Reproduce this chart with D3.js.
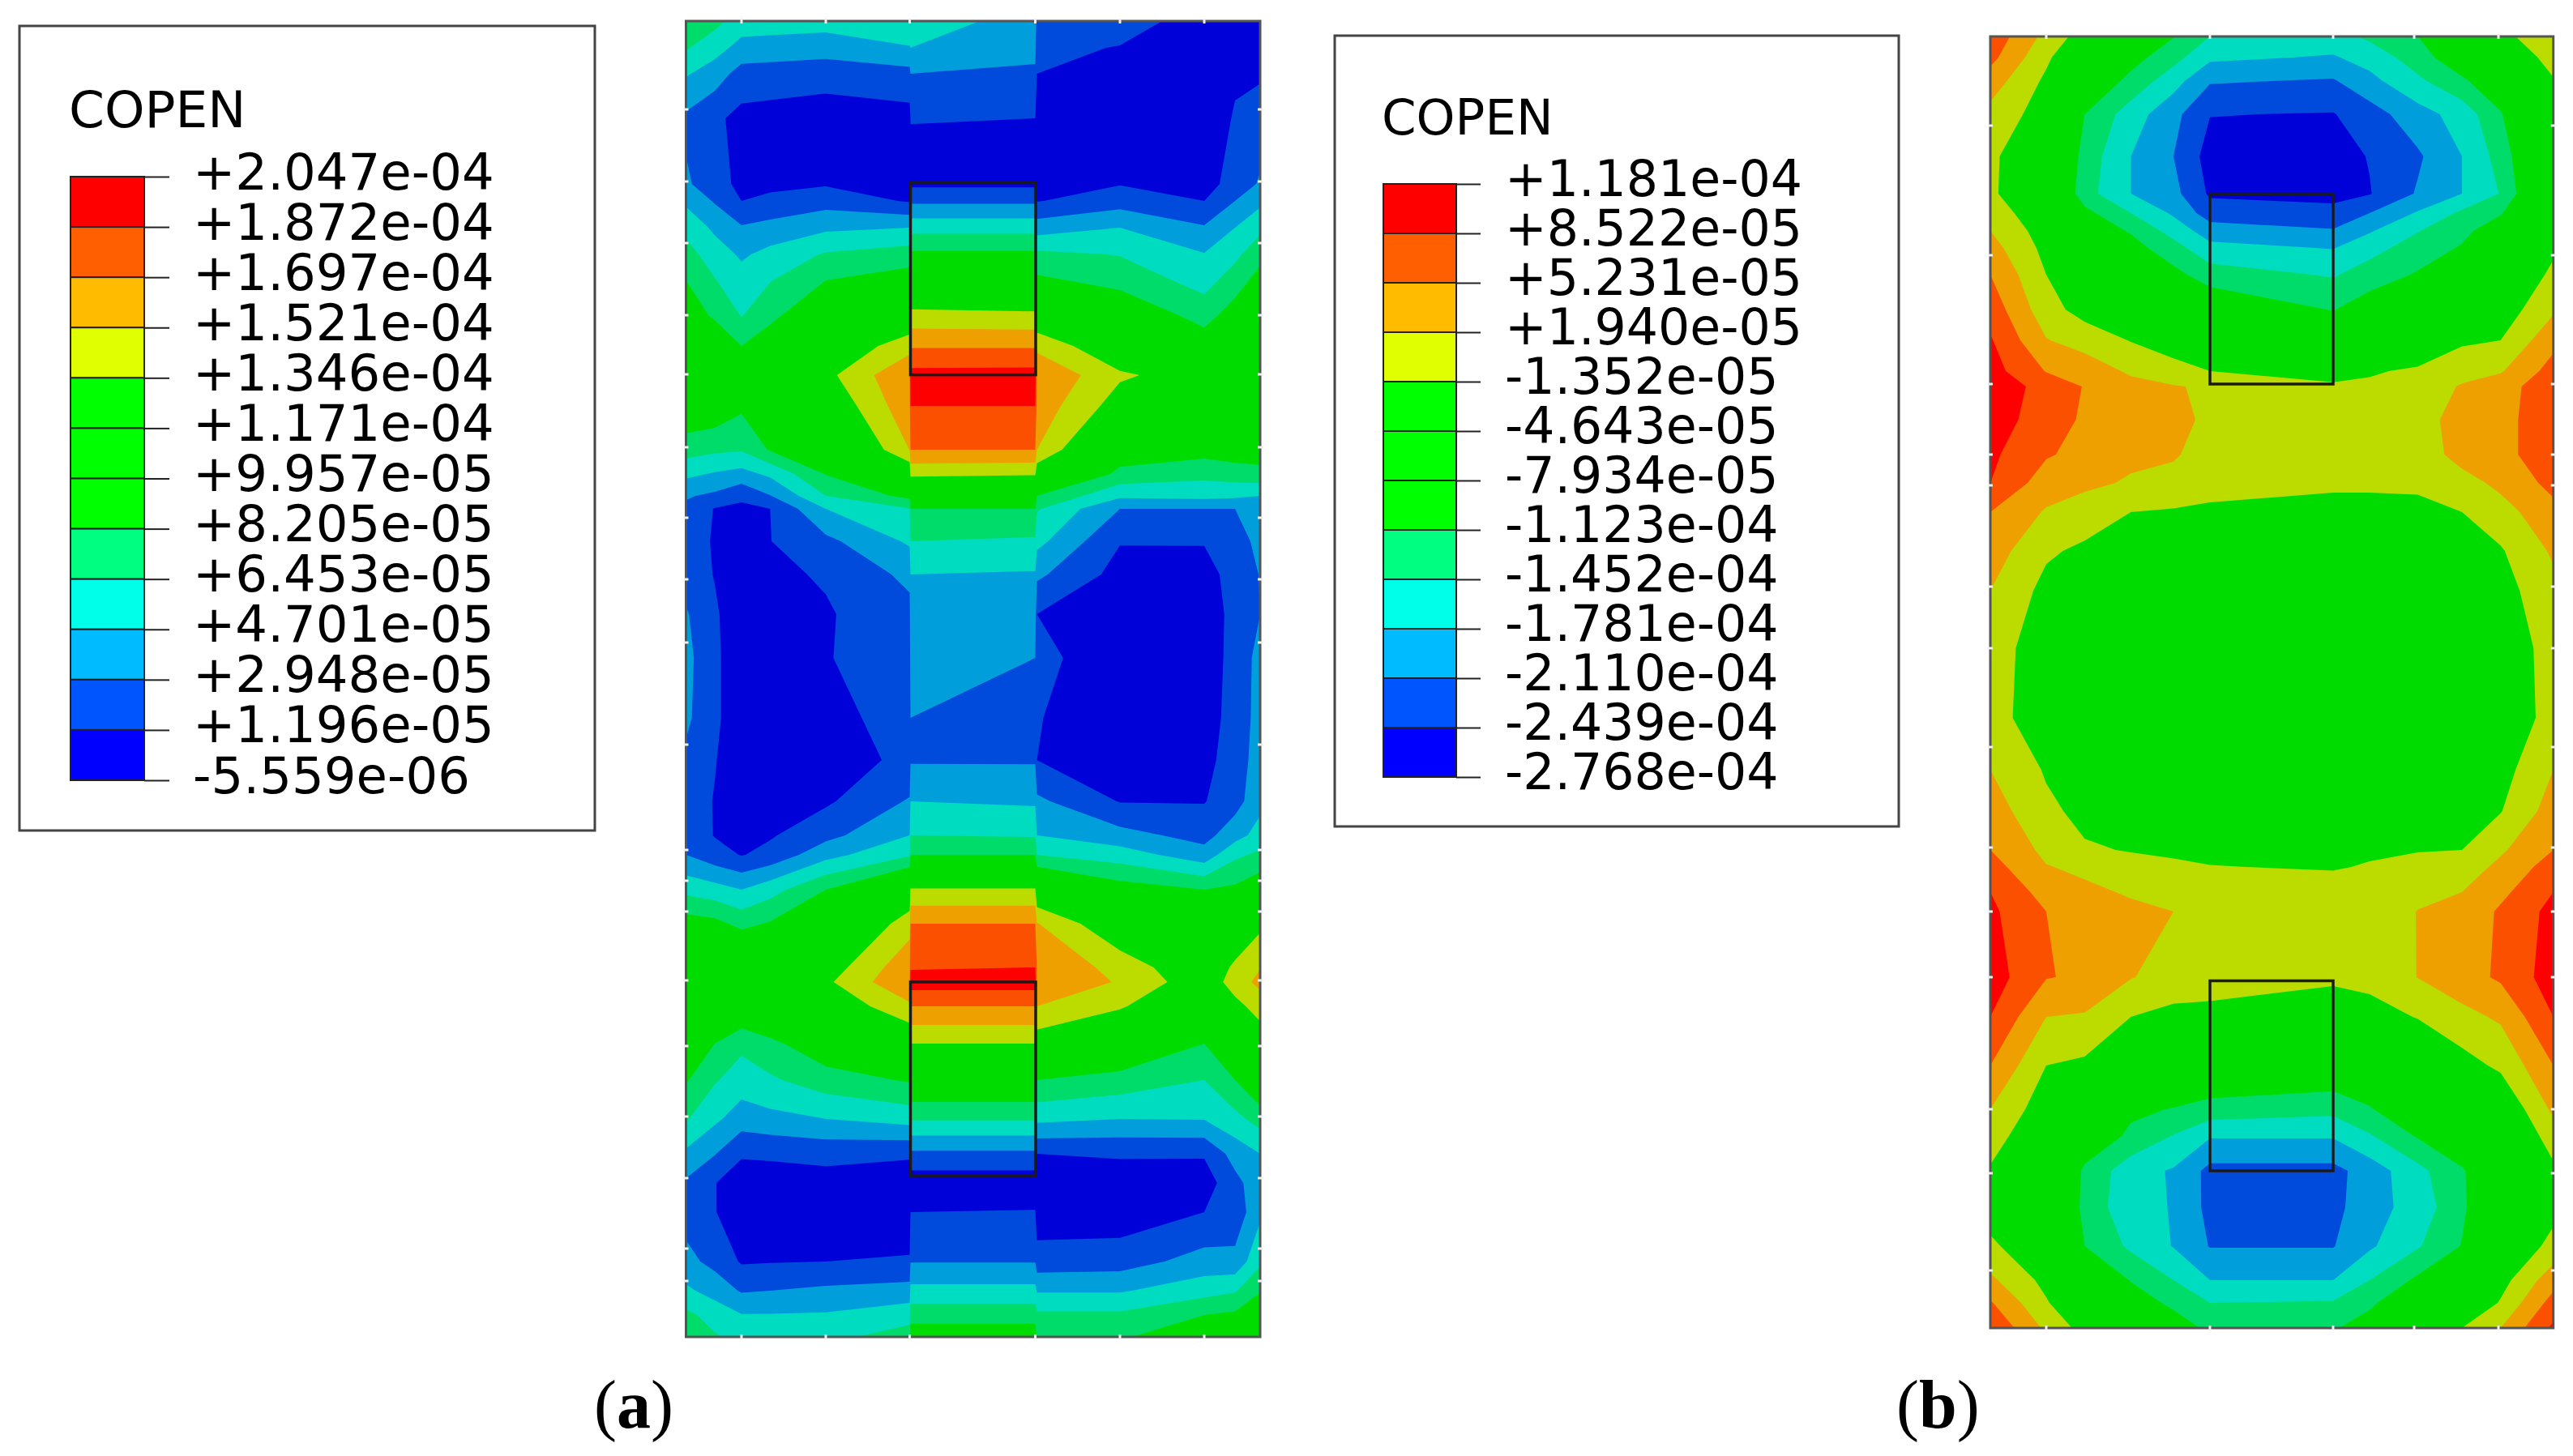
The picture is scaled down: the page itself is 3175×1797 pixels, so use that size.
<!DOCTYPE html>
<html>
<head>
<meta charset="utf-8">
<script src="https://cdn.jsdelivr.net/npm/d3@7"></script>
<style>
  html, body { margin: 0; background: #fff; }
  text { fill: #000; }
  .legend text { font-family: "DejaVu Sans", sans-serif; }
  .caption { font-family: "Liberation Serif", serif; font-size: 84px; }
</style>
</head>
<body>
<div id="chart"></div>
<script>
/* global d3 */

const width = 3175,
  height = 1797

// legend labels, top to bottom
const labelsA = ['+2.047e-04', '+1.872e-04', '+1.697e-04', '+1.521e-04', '+1.346e-04', '+1.171e-04', '+9.957e-05',
  '+8.205e-05', '+6.453e-05', '+4.701e-05', '+2.948e-05', '+1.196e-05', '-5.559e-06']
const labelsB = ['+1.181e-04', '+8.522e-05', '+5.231e-05', '+1.940e-05', '-1.352e-05', '-4.643e-05', '-7.934e-05',
  '-1.123e-04', '-1.452e-04', '-1.781e-04', '-2.110e-04', '-2.439e-04', '-2.768e-04']

// band colours, lowest band first
const legendColors = ['#0000ff', '#0055ff', '#00bbff', '#00ffe8', '#00ff80', '#00ff00', '#00ff00', '#00ff00', '#e0ff00', '#ffbb00', '#ff5f00', '#ff0000']
const plotColors = ['#0000d8', '#004bdc', '#009fdc', '#00dcc0', '#00dc6a', '#00dc00', '#00dc00', '#00dc00', '#bcdc00', '#eda000', '#fa5000', '#ff0000']

// mesh of plate (a), in plate units. Values are read off the picture as a position on
// the legend: 0 is the bottom label, 12 the top one. One array per mesh column.
const nodeXA = [0, 35.5, 68.5, 103.8, 172.5, 276, 277, 431, 433, 535.5, 639.5, 677.5, 708.5]
const nodeYA = [0, 33, 65, 120, 201, 222, 255, 288, 320, 363, 401, 437, 475, 529, 559, 586, 602, 642, 683, 732, 786,
  860, 912, 963, 1005, 1029, 1072, 1114, 1168, 1186, 1216, 1262, 1307, 1355, 1398, 1434, 1470, 1531, 1567, 1597, 1624]
const colA0 = [4.7, 4.1, 3.1, 1.8, 2.15, 2.8, 3.7, 4.4, 5, 5.7, 6.4, 7, 6, 4.4, 3.25, 2.1, 1.8, 1.5, 1.6, 2.1, 2.3,
  2.2, 1.8, 1.5, 1.75, 2, 3.7, 5.5, 7, 7.5, 7, 6.2, 5.1, 4.1, 2.8, 1.85, 1.6, 2.3, 3.2, 4.25, 4.9]
const colA1 = [4.3, 3.4, 2.5, 1.2, 1.4, 1.9, 2.8, 3.5, 4.05, 4.8, 6, 7, 5.8, 4.2, 2.9, 1.8, 0.95, 0.9, 0.95, 1.15, 1.2,
  1.2, 1.05, 0.95, 0.95, 1.4, 3.4, 5.3, 7, 7.6, 6.9, 5, 4.1, 3.2, 2.05, 1.03, 1.05, 1.7, 2.6, 3.6, 4.1]
const colA2 = [3.5, 2.65, 1.6, 0.7, 0.75, 1, 2.1, 2.85, 3.4, 3.95, 5, 6.5, 5.2, 4.1, 2.65, 1.2, 0.8, 0.4, 0.3, 0.3, 0.35,
  0.35, 0.4, 0.6, 0.8, 0.95, 3, 4.7, 6.9, 7.7, 6.1, 4.25, 3.5, 2.5, 1.1, 0.55, 0.3, 0.9, 1.9, 3.05, 3.7]
const colA3 = [3.47, 2.58, 1.53, 0.63, 0.8, 1.2, 2.35, 3.3, 3.95, 4.7, 5.7, 6.95, 5.8, 5.1, 3.2, 1.95, 1, 0.98, 0.8, 0.4, 0.3,
  0.3, 0.4, 0.6, 0.9, 1.3, 3.6, 5.1, 7.05, 7.8, 6.4, 4.75, 3.85, 2.7, 1.15, 0.55, 0.3, 0.95, 2, 3.05, 3.7]
const colA4 = [3.4, 2.45, 1.4, 0.5, 0.9, 1.6, 2.8, 4.1, 5, 6.1, 7, 7.7, 7, 5.7, 5.05, 4, 3, 1.75, 1.1, 0.9, 0.95,
  0.85, 0.7, 0.85, 1.7, 2.65, 5, 5.95, 7.4, 7.8, 7.1, 5.75, 4.55, 3, 1.3, 0.6, 0.3, 1, 2.2, 3.1, 3.7]
const colA5 = [3.6, 2.95, 1.65, 0.65, 0.75, 0.9, 3, 4.5, 5.5, 7, 8.6, 9.95, 9.7, 9.02, 7, 5.3, 3.95, 3.15, 2.25, 1.7, 1.5,
  1.2, 1.15, 2.1, 3, 3.9, 7, 8.6, 9.7, 9.95, 8.8, 7, 5.1, 3.4, 1.1, 0.6, 0.35, 1.1, 2.4, 3.6, 4.5]
const colA6 = [3.5, 3, 2, 1.02, 0.8, 1.8, 3.65, 5.2, 6.55, 8.3, 9.9, 11.35, 11, 10, 8.25, 6.25, 5, 4, 3, 2.6, 2.4,
  2, 1.9, 3, 4, 5, 8.1, 10, 10.9, 11.5, 10, 8, 6.15, 4.1, 1.8, 0.4, 1, 1.95, 3.3, 4.6, 5.6]
const colA7 = [2.6, 2.25, 1.85, 1, 0.8, 1.8, 3.65, 5.2, 6.4, 8.2, 9.9, 11.4, 11, 10, 8.1, 6.3, 5, 3.85, 2.9, 2.6, 2,
  1.6, 1.9, 2.85, 3.9, 5, 8.1, 10, 11, 11.5, 10, 8, 6.15, 4.1, 1.8, 0.4, 1.05, 1.95, 3.3, 4.6, 5.6]
const colA8 = [1.5, 1.25, 1, 0.5, 0.8, 0.95, 2.5, 4.25, 5.2, 7.1, 8.7, 9.95, 9.6, 9, 7.2, 5, 4.1, 3.3, 2.2, 1, 1.3,
  1.05, 1, 2.2, 3, 4, 6.9, 9.05, 9.95, 9.9, 9, 7.4, 5, 3.25, 1, 0.5, 0.4, 1.45, 2.9, 4.2, 4.9]
const colA9 = [1.5, 0.95, 0.6, 0.4, 0.95, 1.55, 3, 3.95, 4.65, 5.9, 7.1, 8.15, 7.5, 5.7, 4.7, 3.2, 2, 1.05, 0.65, 0.35, 0.35,
  0.4, 0.7, 0.95, 2.35, 3.5, 5.5, 7.05, 8.6, 8.9, 8.15, 6.25, 4.6, 3, 1.1, 0.55, 0.4, 1.55, 2.9, 4.2, 4.9]
const colA10 = [0.5, 0.45, 0.4, 0.3, 0.8, 1, 2.1, 3.05, 3.6, 4.6, 5.6, 7.5, 6.5, 5.4, 4.3, 3.3, 2, 1.05, 0.7, 0.35, 0.35,
  0.4, 0.65, 0.95, 1.65, 2.4, 5, 6, 7.1, 7.3, 6.4, 5, 4, 3.05, 1.1, 0.5, 1, 2.4, 3.6, 5, 5.6]
const colA11 = [0.6, 0.7, 0.85, 1.1, 1.2, 2, 3, 3.75, 4.5, 5.5, 6.3, 7.6, 6.8, 5.6, 4.5, 3.2, 2, 1.3, 1.3, 1.35, 1.4,
  1.5, 1.55, 1.6, 2.6, 3.8, 5.2, 7, 8.2, 8.45, 7.7, 6.2, 5, 3.7, 2.4, 1.7, 1.35, 2.3, 3.9, 5.2, 5.7]
const colA12 = [0.5, 0.7, 0.9, 1.35, 2.15, 2.75, 3.75, 4.7, 5.4, 6.4, 7.2, 7.95, 7.1, 5.5, 4.7, 3, 2.85, 2.45, 2.05, 2, 2.3,
  2.3, 2.4, 2.7, 3.4, 4.2, 5.8, 7.75, 8.95, 9.3, 8.4, 7.4, 6.2, 4.4, 3, 2.6, 2.8, 3.8, 4.95, 5.6, 6]
const tickXA = [68.5, 172.5, 276, 431, 535.5, 639.5]
const tickYA = [109, 198, 274, 363, 436, 526, 613, 689, 767, 893, 1023, 1061, 1099, 1184, 1265, 1352, 1428, 1515, 1555]

// mesh of plate (b)
const nodeXB = [0, 69, 116.5, 173.5, 226, 271, 423, 468, 527.4, 582, 629.6, 694.7]
const nodeYB = [0, 26, 55, 96, 148, 194, 218, 240, 261, 294, 337, 375, 413, 432, 473, 516, 551, 587, 635, 684, 755,
  841, 905, 956, 1004, 1025, 1056, 1080, 1161, 1210, 1270, 1324, 1357, 1400, 1445, 1493, 1535, 1563, 1594]
const colB0 = [10.7, 10.3, 9.5, 8.7, 8.2, 8.2, 8.6, 9, 9.4, 10, 10.6, 11.1, 11.4, 11.7, 11.5, 11.2, 11, 10, 9.5, 9, 8.5,
  8.4, 9, 9.5, 10, 10.4, 11, 11.2, 11.5, 11, 10, 9, 8.45, 7.9, 7.5, 8.2, 9.2, 10.1, 10.9]
const colB1 = [8.7, 8.2, 7.8, 7.5, 7, 6.8, 7.2, 7.5, 7.7, 8, 8.4, 9.05, 9.95, 10.6, 10.5, 10.1, 9.5, 8.9, 8.15, 7.7, 7.4,
  7.4, 7.9, 8.2, 8.75, 9.05, 9.6, 10, 10.05, 9, 8, 7.4, 7.1, 6.9, 6.9, 7.1, 7.7, 8.1, 8.8]
const colB2 = [7.5, 6.8, 6, 5, 4.6, 4.4, 5.3, 5.7, 6.1, 6.8, 7.6, 8.6, 9.55, 9.95, 9.85, 9.7, 9.2, 8.55, 7.8, 7.4, 7.2,
  7.2, 7.4, 7.75, 8.1, 8.8, 9.2, 9.4, 9.85, 8.9, 7.8, 6.8, 5.8, 4.8, 4.7, 5, 6.1, 6.9, 7.6]
const colB3 = [5.9, 5.4, 4.7, 3.5, 3, 3, 4, 4.9, 5.4, 6, 7.1, 7.95, 8.85, 9.3, 9.3, 9.2, 8.9, 8, 7.4, 7.1, 7.1,
  7.1, 7.2, 7.5, 7.95, 8.3, 8.9, 9.2, 9.05, 8, 6.5, 5.2, 4.8, 3.4, 3.3, 3.8, 4.95, 5.5, 6.4]
const colB4 = [5.05, 4.35, 3.4, 2.3, 2, 2.3, 2.85, 3.6, 4.4, 5.3, 6.5, 7.3, 8.5, 9.05, 9.3, 9.1, 8.7, 7.9, 7.4, 7.1, 7,
  7, 7.1, 7.5, 7.8, 8.2, 8.7, 9, 8.6, 7.7, 6.3, 4.95, 3.95, 2.9, 2.95, 2.95, 4, 4.8, 5.5]
const colB5 = [4, 3.2, 2.1, 1.03, 0.6, 0.85, 1.5, 2.5, 3.3, 4.5, 5.9, 6.9, 8, 8.9, 8.8, 8.6, 8.4, 7.8, 7.4, 7.2, 7.1,
  7.1, 7.2, 7.4, 7.85, 8.02, 8.5, 8.8, 8.6, 7.6, 6.2, 4.6, 3.1, 1.7, 1.7, 1.95, 3, 4, 4.8]
const colB6 = [3.6, 2.9, 1.9, 0.95, 0.6, 0.8, 1.2, 2.1, 2.95, 3.9, 4.95, 5.9, 7.6, 8.15, 8.5, 8.5, 8.1, 7.8, 7.5, 7.3, 7.2,
  7.2, 7.3, 7.5, 7.8, 7.95, 8.3, 8.7, 8.2, 7.3, 6, 4.3, 3.1, 1.7, 1.7, 1.95, 3, 4.1, 4.9]
const colB7 = [4.2, 3.4, 2.7, 1.55, 1.05, 0.95, 2, 2.9, 3.65, 4.45, 5.6, 6.6, 7.9, 8.15, 8.4, 8.3, 8.1, 7.8, 7.5, 7.3, 7.2,
  7.2, 7.3, 7.6, 7.9, 8.05, 8.4, 8.5, 8.3, 7.6, 6.2, 4.9, 3.9, 2.45, 2.6, 2.85, 4, 4.8, 5.5]
const colB8 = [5, 4.5, 3.8, 2.6, 1.85, 2.1, 3.1, 3.95, 4.45, 5.1, 6.2, 7.1, 8.15, 8.35, 8.5, 8.4, 8.1, 7.85, 7.6, 7.4, 7.3,
  7.3, 7.4, 7.7, 7.95, 8.3, 8.8, 9.02, 9.02, 8.05, 6.8, 6.05, 5.1, 3.7, 3.4, 3.9, 5.2, 6, 7]
const colB9 = [6.7, 5.8, 4.8, 3.4, 3, 3, 4.2, 4.7, 5.1, 5.9, 6.9, 7.85, 8.6, 9.1, 9.5, 9.4, 8.6, 8, 7.6, 7.3, 7.15,
  7.2, 7.3, 7.6, 8, 8.45, 9, 9.25, 9.6, 8.7, 7.6, 6.6, 5.8, 4.9, 4.8, 5.05, 6, 6.8, 8]
const colB10 = [7.6, 6.8, 5.9, 4.9, 4.4, 4.05, 4.9, 5.7, 6.1, 6.7, 7.4, 8, 8.9, 9.6, 9.7, 9.7, 9.25, 8.6, 7.9, 7.6, 7.5,
  7.5, 7.6, 7.95, 8.85, 9.25, 9.75, 10.15, 10.15, 9.15, 8.2, 7, 6.6, 6, 6.4, 7, 7.6, 8.1, 9]
const colB11 = [9, 8.5, 7.9, 7.5, 7.2, 7.2, 7.4, 7.6, 7.8, 8.25, 8.85, 9.7, 10.4, 10.6, 10.6, 10.6, 10.3, 9.7, 9.15, 8.7, 8.3,
  8.25, 9, 9.45, 10, 10.45, 11, 11.3, 11.5, 11, 10, 9.2, 8.5, 7.8, 7.7, 8.3, 9.6, 10.4, 11.2]
const tickXB = [69, 271, 423, 523, 627]
const tickYB = [110, 270, 429, 516, 554, 679, 755, 877, 1001, 1080, 1161, 1324, 1403, 1523]

const svg = d3.select('#chart')
  .append('svg')
  .attr('width', width)
  .attr('height', height)
  .style('display', 'block')
  .style('background', '#fff')

// filled contours of one plate
let drawPlate = (opt) => {
  let nx = opt.nodeX.length,
    ny = opt.nodeY.length

  let x = d3.scaleLinear().domain([0, d3.max(opt.nodeX)]).range([opt.left, opt.right])
  let y = d3.scaleLinear().domain([0, d3.max(opt.nodeY)]).range([opt.top, opt.bottom])

  // legend position -> COPEN value
  let levels = opt.labels.map(Number).reverse()
  let toValue = d3.scaleLinear().domain(d3.range(levels.length)).range(levels)

  let values = new Array(nx * ny)
  opt.columns.forEach((col, i) => {
    col.forEach((v, j) => {
      values[j * nx + i] = toValue(v)
    })
  })

  // d3.contours puts value i at i + 0.5, the mesh is not uniform so go through a piecewise scale
  let gridX = d3.scaleLinear()
    .domain([0, ...opt.nodeX.map((d, i) => i + 0.5), nx])
    .range([x(0), ...opt.nodeX.map(x), x(d3.max(opt.nodeX))])
  let gridY = d3.scaleLinear()
    .domain([0, ...opt.nodeY.map((d, i) => i + 0.5), ny])
    .range([y(0), ...opt.nodeY.map(y), y(d3.max(opt.nodeY))])

  let path = d3.geoPath(d3.geoTransform({
    point: function (px, py) {
      this.stream.point(gridX(px), gridY(py))
    }
  }))

  let contours = d3.contours().size([nx, ny])
  let g = svg.append('g').attr('class', 'plate')

  g.append('rect')
    .attr('x', x(0))
    .attr('y', y(0))
    .attr('width', x(d3.max(opt.nodeX)) - x(0))
    .attr('height', y(d3.max(opt.nodeY)) - y(0))
    .attr('fill', plotColors[0])

  g.selectAll('path.band')
    .data(levels.slice(1, 12).map((level, i) => ({ level: level, color: plotColors[i + 1] })))
    .enter()
    .append('path')
    .attr('class', 'band')
    .attr('fill', d => d.color)
    .attr('d', d => path(contours.contour(values, d.level)))

  // the two contact pads
  g.selectAll('rect.pad')
    .data(opt.pads)
    .enter()
    .append('rect')
    .attr('class', 'pad')
    .attr('x', d => x(d[0]))
    .attr('y', d => y(d[1]))
    .attr('width', d => x(d[2]) - x(d[0]))
    .attr('height', d => y(d[3]) - y(d[1]))
    .attr('fill', 'none')
    .attr('stroke', '#1a1a1a')
    .attr('stroke-width', 3.5)

  g.append('rect')
    .attr('x', x(0))
    .attr('y', y(0))
    .attr('width', x(d3.max(opt.nodeX)) - x(0))
    .attr('height', y(d3.max(opt.nodeY)) - y(0))
    .attr('fill', 'none')
    .attr('stroke', '#555')
    .attr('stroke-width', 3)

  // the small pale mesh marks on the border
  let marks = []
  opt.tickX.forEach(t => {
    marks.push([x(t), y(0) - 3, x(t), y(0) + 3])
    marks.push([x(t), y(d3.max(opt.nodeY)) - 3, x(t), y(d3.max(opt.nodeY)) + 3])
  })
  opt.tickY.forEach(t => {
    marks.push([x(0) - 3, y(t), x(0) + 3, y(t)])
    marks.push([x(d3.max(opt.nodeX)) - 3, y(t), x(d3.max(opt.nodeX)) + 3, y(t)])
  })
  g.selectAll('line.mark')
    .data(marks)
    .enter()
    .append('line')
    .attr('class', 'mark')
    .attr('x1', d => d[0])
    .attr('y1', d => d[1])
    .attr('x2', d => d[2])
    .attr('y2', d => d[3])
    .attr('stroke', '#eee')
    .attr('stroke-width', 3)
}

// legend box, colour bar, ticks and labels
let drawLegend = (opt) => {
  let g = svg.append('g').attr('class', 'legend')

  g.append('rect')
    .attr('x', opt.box[0])
    .attr('y', opt.box[1])
    .attr('width', opt.box[2] - opt.box[0])
    .attr('height', opt.box[3] - opt.box[1])
    .attr('fill', '#fff')
    .attr('stroke', '#444')
    .attr('stroke-width', 3)

  g.append('text')
    .attr('x', opt.barLeft - 2)
    .attr('y', opt.titleY)
    .attr('font-size', opt.titleSize)
    .text('COPEN')

  let scale = d3.scalePoint()
    .domain(opt.labels)
    .range([opt.barTop, opt.barBottom])

  let colors = legendColors.slice().reverse()
  g.selectAll('rect.swatch')
    .data(opt.labels.slice(0, -1))
    .enter()
    .append('rect')
    .attr('class', 'swatch')
    .attr('x', opt.barLeft)
    .attr('y', d => scale(d))
    .attr('width', opt.barRight - opt.barLeft)
    .attr('height', scale.step())
    .attr('fill', (d, i) => colors[i])
    .attr('stroke', '#222')
    .attr('stroke-width', 2)

  let axis = g.append('g')
    .attr('transform', `translate(${opt.barRight}, 0)`)
    .call(d3.axisRight(scale).tickSize(opt.tickLen).tickPadding(opt.labelX - opt.barRight - opt.tickLen))
  axis.select('.domain').remove()
  axis.selectAll('line').attr('stroke', '#222').attr('stroke-width', 2)
  axis.selectAll('text')
    .attr('font-size', opt.fontSize)
    .attr('font-family', '"DejaVu Sans", sans-serif')
    .attr('dy', opt.labelDy)
}

drawLegend({
  labels: labelsA, box: [24, 32, 734, 1025], barLeft: 87, barRight: 178, barTop: 218, barBottom: 963,
  tickLen: 31, labelX: 238, fontSize: 62.5, titleSize: 63, titleY: 157, labelDy: 15
})
drawLegend({
  labels: labelsB, box: [1647, 44, 2343, 1020], barLeft: 1707, barRight: 1797, barTop: 227, barBottom: 959,
  tickLen: 30, labelX: 1857, fontSize: 61.7, titleSize: 61, titleY: 166, labelDy: 14
})

drawPlate({
  labels: labelsA, nodeX: nodeXA, nodeY: nodeYA,
  columns: [colA0, colA1, colA2, colA3, colA4, colA5, colA6, colA7, colA8, colA9, colA10, colA11, colA12],
  left: 846.5, right: 1555, top: 26, bottom: 1650,
  pads: [[277, 199, 431.5, 436.6], [277, 1186, 431.5, 1425]],
  tickX: tickXA, tickY: tickYA
})
drawPlate({
  labels: labelsB, nodeX: nodeXB, nodeY: nodeYB,
  columns: [colB0, colB1, colB2, colB3, colB4, colB5, colB6, colB7, colB8, colB9, colB10, colB11],
  left: 2456, right: 3150.7, top: 45, bottom: 1639,
  pads: [[271, 195, 423, 429], [271, 1165.5, 423, 1400]],
  tickX: tickXB, tickY: tickYB
})

// panel captions, the letter is bold
let captions = [{ x: 733, letter: 'a' }, { x: 2340, letter: 'b' }]
let caption = svg.selectAll('text.caption')
  .data(captions)
  .enter()
  .append('text')
  .attr('class', 'caption')
  .attr('x', d => d.x)
  .attr('y', 1762)
caption.append('tspan').text('(')
caption.append('tspan').attr('font-weight', 'bold').text(d => d.letter)
caption.append('tspan').text(')')
</script>
</body>
</html>
